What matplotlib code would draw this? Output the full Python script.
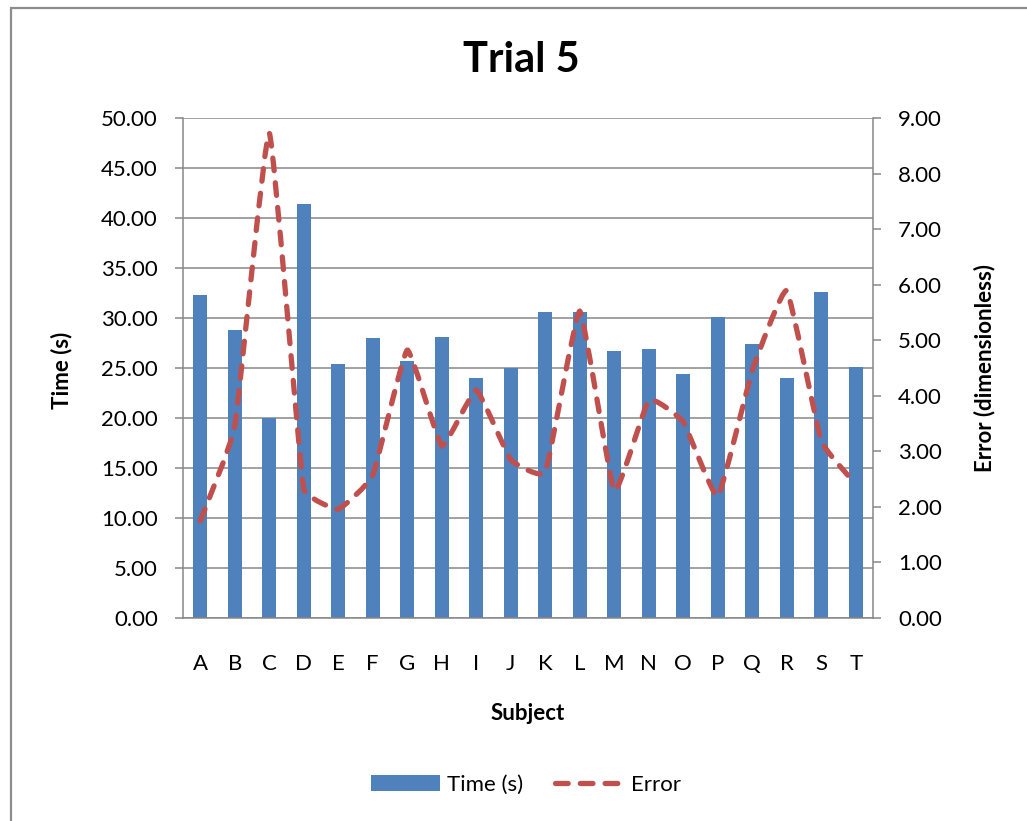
import math
import matplotlib
matplotlib.use("Agg")
import matplotlib.pyplot as plt
from matplotlib.path import Path
from matplotlib.patches import PathPatch, Patch, Rectangle
from matplotlib.lines import Line2D

plt.rcParams['font.family'] = ['Lato', 'DejaVu Sans']

subjects = ['A', 'B', 'C', 'D', 'E', 'F', 'G', 'H', 'I', 'J',
            'K', 'L', 'M', 'N', 'O', 'P', 'Q', 'R', 'S', 'T']
times = [32.25, 28.83, 20.00, 41.37, 25.41, 28.04, 25.72, 28.14, 24.03, 24.97,
         30.56, 30.63, 26.73, 26.93, 24.41, 30.14, 27.35, 24.03, 32.63, 25.14]
errors = [1.75, 3.45, 8.73, 2.32, 1.96, 2.57, 4.82, 3.10, 4.10, 2.85,
          2.62, 5.52, 2.29, 3.92, 3.53, 2.19, 4.45, 5.89, 3.19, 2.41]

bar_color = '#4F81BD'
line_color = '#C0504D'
axis_gray = '#878787'


def smooth_path(xs, ys, sx, sy, tension=0.06, k=0.2):
    # bezier through the points; handles follow the neighbours
    # but are kept short (a share of the segment length, in pixels)
    pts = [(a * sx, b * sy) for a, b in zip(xs, ys)]
    n = len(pts)

    def handle(p_prev, p_next, seg):
        tx = (p_next[0] - p_prev[0]) * tension
        ty = (p_next[1] - p_prev[1]) * tension
        length = math.hypot(tx, ty)
        limit = k * seg
        if length > limit:
            tx, ty = tx * limit / length, ty * limit / length
        return tx, ty

    verts = [pts[0]]
    codes = [Path.MOVETO]
    for i in range(n - 1):
        p0 = pts[i - 1] if i > 0 else pts[i]
        p1 = pts[i]
        p2 = pts[i + 1]
        p3 = pts[i + 2] if i + 2 < n else pts[i + 1]
        seg = math.hypot(p2[0] - p1[0], p2[1] - p1[1])
        h1 = handle(p0, p2, seg)
        h2 = handle(p1, p3, seg)
        verts += [(p1[0] + h1[0], p1[1] + h1[1]),
                  (p2[0] - h2[0], p2[1] - h2[1]), p2]
        codes += [Path.CURVE4] * 3
    verts = [(a / sx, b / sy) for a, b in verts]
    return Path(verts, codes)


fig = plt.figure(figsize=(10.27, 8.21), dpi=100)
fig.patches.append(Rectangle((11 / 1027, -0.1), 1.2, 1 - 8 / 821 + 0.1,
                             transform=fig.transFigure, fill=False,
                             edgecolor='#8c8c8c', linewidth=1.6, zorder=0))

ax = fig.add_axes([183 / 1027, 1 - 618 / 821, 690 / 1027, 500 / 821])
x = list(range(len(subjects)))
ax.bar(x, times, width=0.4, color=bar_color, zorder=2)
ax.set_xlim(-0.5, len(subjects) - 0.5)
ax.set_ylim(0, 50)
ax.set_yticks([i * 5 for i in range(11)])
ax.set_yticklabels([f"{i * 5:.2f}" for i in range(11)])
ax.set_xticks(x)
ax.set_xticklabels(subjects)
ax.yaxis.grid(True, color=axis_gray, linewidth=1.1, zorder=0)
ax.set_axisbelow(True)
ax.tick_params(axis='y', length=6, width=1.1, color=axis_gray, pad=12, labelsize=16)
ax.tick_params(axis='x', length=0, pad=26, labelsize=16)
for side in ['top', 'right']:
    ax.spines[side].set_visible(False)
for side in ['left', 'bottom']:
    ax.spines[side].set_color(axis_gray)
    ax.spines[side].set_linewidth(1.1)

ax2 = ax.twinx()
ax2.set_ylim(0, 9)
ax2.set_yticks(range(10))
ax2.set_yticklabels([f"{i:.2f}" for i in range(10)])
ax2.tick_params(axis='y', length=6, width=1.1, color=axis_gray, pad=12, labelsize=16)
for side in ['top', 'left', 'bottom']:
    ax2.spines[side].set_visible(False)
ax2.spines['right'].set_color(axis_gray)
ax2.spines['right'].set_linewidth(1.1)

# pixels per data unit along x and along the right-hand axis
px_x = 690 / len(subjects)
px_y = 500 / 9
err_line = PathPatch(smooth_path(x, errors, px_x, px_y), fill=False,
                     edgecolor=line_color, linewidth=3.8,
                     linestyle=(0, (2.4, 2.3)), capstyle='round', zorder=3)
ax2.add_patch(err_line)

fig.text(521 / 1027, 1 - 60 / 821, 'Trial 5', ha='center', va='center',
         fontsize=30, fontweight='bold')
fig.text(62 / 1027, 1 - 370 / 821, 'Time (s)', rotation=90, ha='center',
         va='center', fontsize=16, fontweight='bold')
fig.text(985 / 1027, 1 - 368 / 821, 'Error (dimensionless)', rotation=90,
         ha='center', va='center', fontsize=16, fontweight='bold')
fig.text(528 / 1027, 1 - 713 / 821, 'Subject', ha='center', va='center',
         fontsize=16, fontweight='bold')

handles = [Patch(facecolor=bar_color, edgecolor='none'),
           Line2D([], [], color=line_color, linewidth=3.8,
                  linestyle=(0, (2.4, 2.3)), dash_capstyle='round')]
fig.legend(handles, ['Time (s)', 'Error'], loc='center',
           bbox_to_anchor=(526 / 1027, 1 - 785 / 821), ncol=2, frameon=False,
           fontsize=16, handlelength=3.1, handletextpad=0.35, columnspacing=1.4)

fig.savefig('out.png', dpi=100)
